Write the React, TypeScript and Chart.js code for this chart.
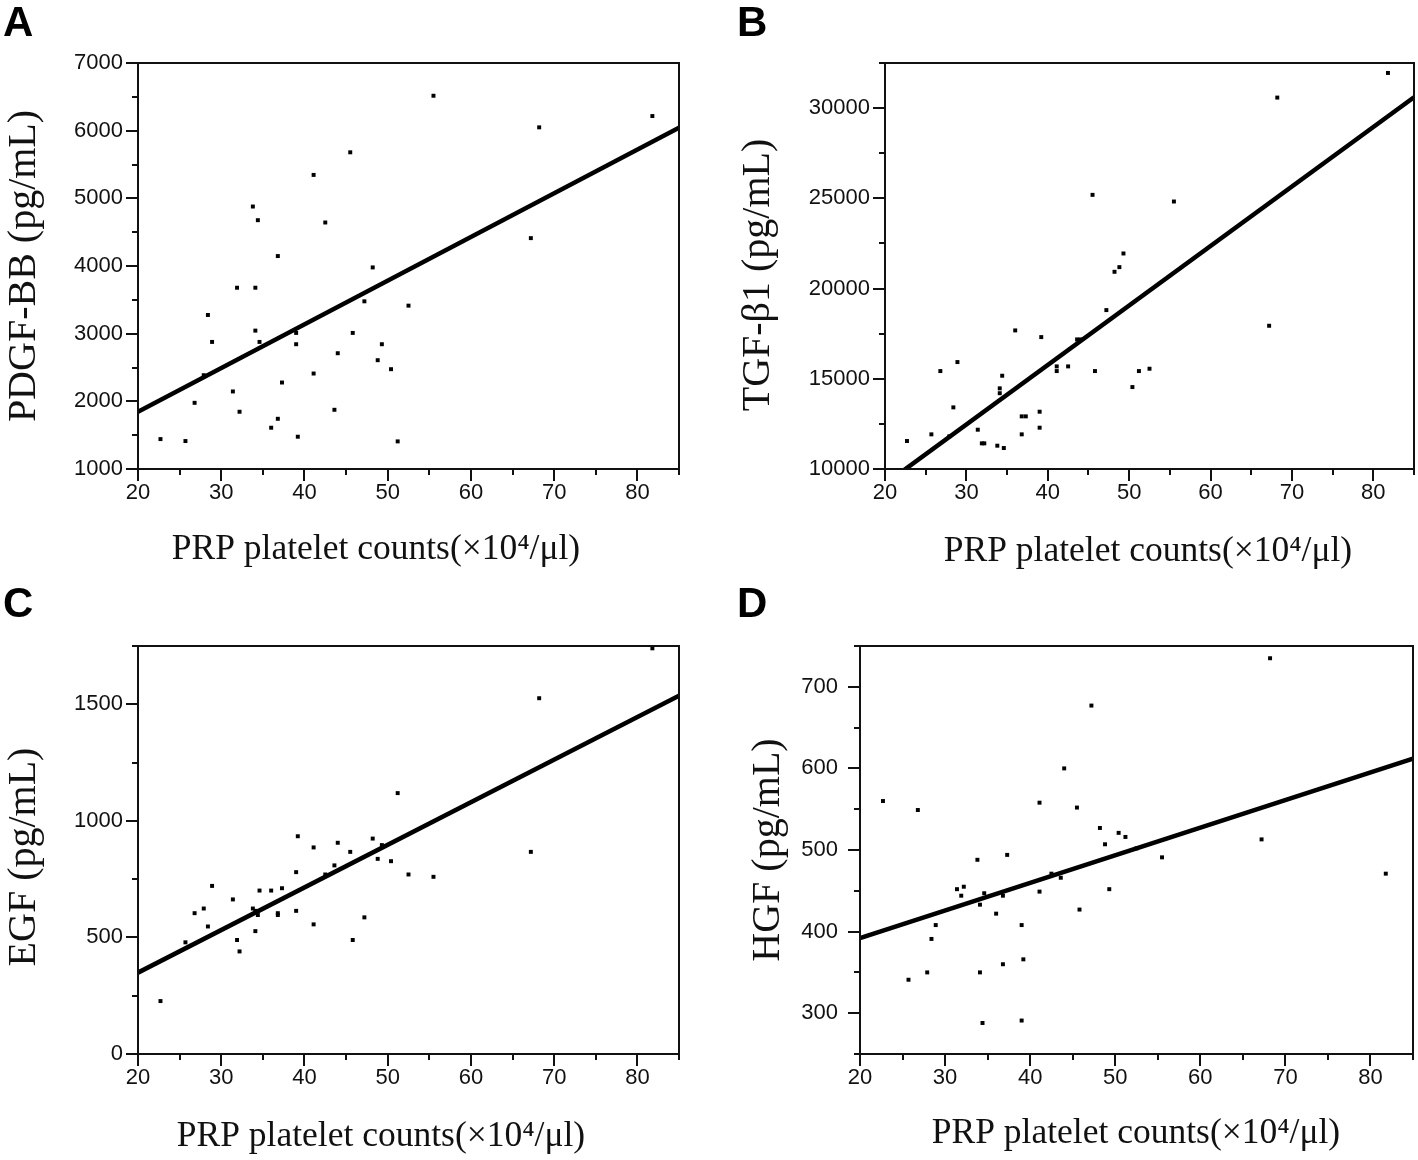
import React, { useEffect, useRef } from "react";
import { Chart, registerables } from "chart.js";

Chart.register(...registerables);

// ---------- data ----------
const platelets = [22.7, 25.7, 26.8, 27.9, 28.4, 28.9, 31.4, 31.9, 32.2, 33.8, 34.1, 34.1, 34.4, 34.6, 36.0, 36.8, 36.8, 37.3, 39.0, 39.0, 39.2, 41.1, 41.1, 42.5, 43.6, 44.0, 45.5, 45.8, 47.2, 48.2, 48.8, 49.3, 50.4, 51.2, 52.5, 55.5, 67.2, 68.2, 81.8];

const pdgfBB = [1442, 1413, 1978, 2386, 3276, 2878, 2146, 3679, 1846, 4879, 3679, 3045, 4677, 2878, 1610, 4147, 1742, 2278, 3011, 2844, 1477, 5346, 2411, 4643, 1875, 2711, 5680, 3011, 3478, 3979, 2608, 2844, 2475, 1408, 3414, 6516, 4412, 6049, 6216];
const tgfB1 = [11551, 11920, 15427, 11809, 13415, 15926, 12178, 11421, 11421, 11292, 14470, 14200, 15169, 11163, 17680, 11920, 12917, 12917, 13175, 12289, 17310, 15686, 15427, 15686, 17181, 17181, 25193, 15427, 18806, 20929, 21187, 21944, 14541, 15427, 15557, 24824, 17938, 30583, 31949];
const egf = [227, 479, 604, 624, 547, 721, 663, 489, 440, 624, 527, 614, 596, 701, 701, 604, 596, 711, 614, 780, 934, 886, 556, 770, 809, 906, 867, 489, 586, 924, 837, 896, 827, 1119, 770, 760, 867, 1526, 1740];
const hgf = [560, 341, 549, 350, 391, 408, 452, 444, 455, 488, 433, 350, 288, 447, 422, 444, 360, 494, 408, 291, 366, 558, 449, 471, 466, 600, 552, 427, 677, 527, 507, 452, 521, 516, 502, 491, 513, 735, 471];

// regression lines: values at fitX
const fitX = [20, 85];
const pdgfFit = [1845, 6042];
const tgfFit = [9170, 30600];
const egfFit = [349, 1537];
const hgfFit = [392, 612];

// tick labels
const xTickLabels = [20, 30, 40, 50, 60, 70, 80];
const xMinorTicks = [25, 35, 45, 55, 65, 75, 85];
const pdgfTicks = [1000, 2000, 3000, 4000, 5000, 6000, 7000];
const pdgfMinor = [1500, 2500, 3500, 4500, 5500, 6500];
const tgfTicks = [10000, 15000, 20000, 25000, 30000];
const tgfMinor = [12500, 17500, 22500, 27500, 32500];
const egfTicks = [0, 500, 1000, 1500];
const egfMinor = [250, 750, 1250, 1750];
const hgfTicks = [300, 400, 500, 600, 700];
const hgfMinor = [250, 350, 450, 550, 650, 750];

const X_TITLE = "PRP platelet counts(\u00D710\u2074/\u03BCl)";

// ---------- layout ----------
type Panel = {
  letter: string;
  yTitle: string;
  values: number[];
  fit: number[];
  yMin: number;
  yMax: number;
  yTicks: number[];
  yMinor: number[];
  rect: { x: number; y: number; w: number; h: number };
  plot: { l: number; t: number; r: number; b: number };
  yTitlePos: [number, number];
  xTitlePos: [number, number];
  letterPos: [number, number];
  yGap: number;
};

const panels: Panel[] = [
  {
    letter: "A", yTitle: "PDGF-BB (pg/mL)", values: pdgfBB, fit: pdgfFit,
    yMin: 1000, yMax: 7000, yTicks: pdgfTicks, yMinor: pdgfMinor,
    rect: { x: 0, y: 0, w: 709, h: 580 }, plot: { l: 138, t: 63, r: 679, b: 469 },
    yTitlePos: [24, 266], xTitlePos: [376, 550], letterPos: [3, 1], yGap: 15,
  },
  {
    letter: "B", yTitle: "TGF-\u03B21 (pg/mL)", values: tgfB1, fit: tgfFit,
    yMin: 10000, yMax: 32500, yTicks: tgfTicks, yMinor: tgfMinor,
    rect: { x: 709, y: 0, w: 709, h: 580 }, plot: { l: 885, t: 63, r: 1414, b: 469 },
    yTitlePos: [758, 275], xTitlePos: [1148, 552], letterPos: [737, 1], yGap: 15,
  },
  {
    letter: "C", yTitle: "EGF (pg/mL)", values: egf, fit: egfFit,
    yMin: 0, yMax: 1750, yTicks: egfTicks, yMinor: egfMinor,
    rect: { x: 0, y: 580, w: 709, h: 580 }, plot: { l: 138, t: 646, r: 679, b: 1054 },
    yTitlePos: [24, 857], xTitlePos: [381, 1137], letterPos: [3, 582], yGap: 15,
  },
  {
    letter: "D", yTitle: "HGF (pg/mL)", values: hgf, fit: hgfFit,
    yMin: 250, yMax: 750, yTicks: hgfTicks, yMinor: hgfMinor,
    rect: { x: 709, y: 580, w: 709, h: 580 }, plot: { l: 860, t: 646, r: 1413, b: 1054 },
    yTitlePos: [768, 850], xTitlePos: [1136, 1134], letterPos: [737, 582], yGap: 22,
  },
];

const X_AXIS_H = 60;
const INK = "#111";
const TICK_FONT = { family: '"Liberation Sans", Arial, sans-serif', size: 22, lineHeight: 1.2 };

const decorPlugin = {
  id: "decor",
  afterDatasetsDraw(chart: any, _args: any, opts: any) {
    const { ctx, chartArea: a, scales } = chart;
    const xs = scales.x;
    const ys = scales.y;
    ctx.save();
    ctx.strokeStyle = INK;
    ctx.lineWidth = 2;
    ctx.strokeRect(a.left, a.top, a.right - a.left, a.bottom - a.top);
    ctx.beginPath();
    const xt = (vals: number[], len: number) => {
      for (const v of vals) {
        const p = Math.round(xs.getPixelForValue(v));
        ctx.moveTo(p, a.bottom);
        ctx.lineTo(p, a.bottom + len);
      }
    };
    const yt = (vals: number[], len: number) => {
      for (const v of vals) {
        const p = Math.round(ys.getPixelForValue(v));
        ctx.moveTo(a.left, p);
        ctx.lineTo(a.left - len, p);
      }
    };
    xt(opts.xMajor, 12);
    xt(opts.xMinor, 6);
    yt(opts.yMajor, 12);
    yt(opts.yMinor, 6);
    ctx.stroke();

    ctx.fillStyle = INK;
    ctx.textAlign = "center";
    ctx.textBaseline = "middle";
    ctx.font = '35.5px "Liberation Serif", "DejaVu Serif", serif';
    ctx.fillText(opts.xTitle, opts.xTitlePos[0], opts.xTitlePos[1]);
    ctx.translate(opts.yTitlePos[0], opts.yTitlePos[1]);
    ctx.rotate(-Math.PI / 2);
    ctx.font = '40px "Liberation Serif", "DejaVu Serif", serif';
    ctx.fillText(opts.yTitle, 0, 0);
    ctx.restore();
  },
};

function PanelChart({ p }: { p: Panel }) {
  const ref = useRef<HTMLCanvasElement | null>(null);
  useEffect(() => {
    if (!ref.current) return;
    const { rect, plot } = p;
    const chart = new Chart(ref.current, {
      type: "scatter",
      data: {
        datasets: [
          {
            type: "scatter",
            data: platelets.map((x, i) => ({ x, y: p.values[i] })),
            pointStyle: "rect",
            pointRadius: 2.8,
            pointBorderWidth: 0,
            pointBackgroundColor: "#000",
            backgroundColor: "#000",
            borderColor: "#000",
          } as any,
          {
            type: "scatter",
            data: fitX.map((x, i) => ({ x, y: p.fit[i] })),
            showLine: true,
            borderColor: "#000",
            borderWidth: 4.5,
            pointRadius: 0,
            clip: 0,
          } as any,
        ],
      },
      options: {
        animation: false,
        responsive: false,
        maintainAspectRatio: false,
        devicePixelRatio: 1,
        events: [],
        layout: {
          padding: {
            left: 0,
            top: plot.t - rect.y,
            right: rect.w - (plot.r - rect.x),
            bottom: rect.h - (plot.b - rect.y) - X_AXIS_H,
          },
        },
        plugins: {
          legend: { display: false },
          tooltip: { enabled: false },
          decor: {
            xMajor: xTickLabels,
            xMinor: xMinorTicks,
            yMajor: p.yTicks,
            yMinor: p.yMinor,
            xTitle: X_TITLE,
            yTitle: p.yTitle,
            xTitlePos: [p.xTitlePos[0] - rect.x, p.xTitlePos[1] - rect.y],
            yTitlePos: [p.yTitlePos[0] - rect.x, p.yTitlePos[1] - rect.y],
          },
        } as any,
        scales: {
          x: {
            type: "linear",
            min: 20,
            max: 85,
            afterBuildTicks: (s: any) => {
              s.ticks = xTickLabels.map((v) => ({ value: v }));
            },
            afterFit: (s: any) => {
              s.height = X_AXIS_H;
            },
            grid: { display: false, drawTicks: false },
            border: { display: false },
            ticks: {
              font: TICK_FONT,
              color: INK,
              padding: 11,
              maxRotation: 0,
              autoSkip: false,
              callback: (v: any) => String(v),
            },
          },
          y: {
            type: "linear",
            min: p.yMin,
            max: p.yMax,
            afterBuildTicks: (s: any) => {
              s.ticks = p.yTicks.map((v) => ({ value: v }));
            },
            afterFit: (s: any) => {
              s.width = plot.l - rect.x;
            },
            grid: { display: false, drawTicks: false },
            border: { display: false },
            ticks: {
              font: TICK_FONT,
              color: INK,
              padding: p.yGap,
              autoSkip: false,
              callback: (v: any) => String(v),
            },
          },
        },
      },
      plugins: [decorPlugin as any],
    });
    return () => chart.destroy();
  }, [p]);

  return (
    <canvas
      ref={ref}
      width={p.rect.w}
      height={p.rect.h}
      style={{ position: "absolute", left: p.rect.x, top: p.rect.y, width: p.rect.w, height: p.rect.h, display: "block" }}
    />
  );
}

export default function App() {
  return (
    <div style={{ position: "absolute", left: 0, top: 0, width: 1418, height: 1160, background: "#fff", overflow: "hidden" }}>
      {panels.map((p) => (
        <PanelChart key={p.letter} p={p} />
      ))}
      {panels.map((p) => (
        <div
          key={"L" + p.letter}
          style={{
            position: "absolute",
            left: p.letterPos[0],
            top: p.letterPos[1],
            font: 'bold 42px "Liberation Sans", Arial, sans-serif',
            lineHeight: 1,
            color: "#000",
          }}
        >
          {p.letter}
        </div>
      ))}
    </div>
  );
}
